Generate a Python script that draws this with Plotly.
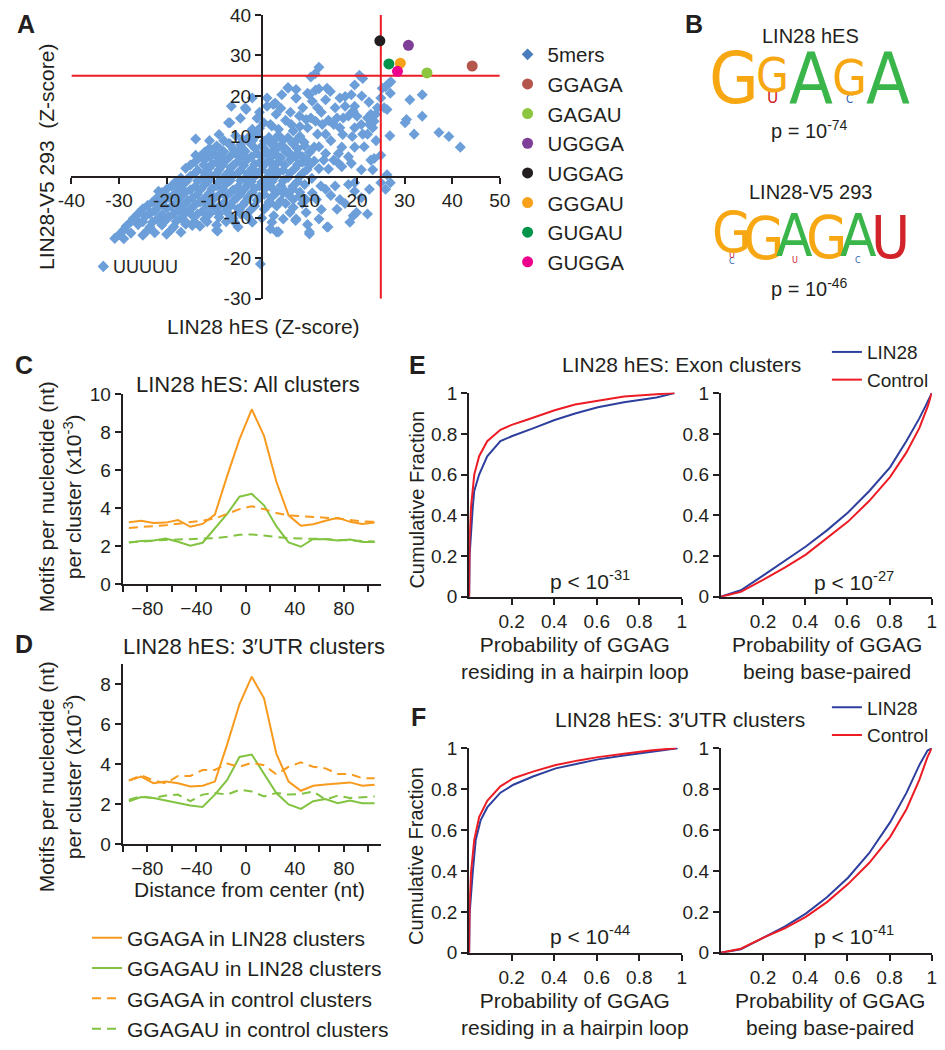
import plotly.graph_objects as go

W, H = 945, 1050
FONT = "Liberation Sans, Arial, Helvetica, sans-serif"
LOGO_FONT = "Liberation Sans Narrow, DejaVu Sans Condensed, Arial Narrow, Liberation Sans, sans-serif"
INK = "#231f20"

def px(x):
    return x / W

def py(y):
    return 1 - y / H

# ---------------- DATA ----------------
# Panel A: 5-mer enrichment Z-scores
fivemer_x = [
    12.0, 10.3, 11.2, 5.5, 7.2, 4.2, 2.8, 1.1, 7.2, 10.0, 11.3, 13.7, 14.4, 10.6, 11.7, 13.4, 8.6, 7.9, 9.3, 10.3,
    11.3, 6.2, 1.8, 3.5, 9.6, 12.7, 15.8, 17.1, 15.1, 13.4, 11.7, 7.2, 8.9, 6.6, 16.4, 17.5, 18.8, 19.5, 20.5, 21.2,
    19.5, 19.2, 18.2, 15.4, 16.4, 19.5, 20.9, 22.2, 22.9, 22.6, 23.6, 21.2, 22.2, 23.3, 23.9, 24.3, 25.7, 26.3, 25.0, 25.3,
    26.0, 26.7, 27.1, 27.0, 31.1, 30.4, 30.1, 33.7, 33.7, 32.0, 26.9, 37.2, 39.3, 41.7, 23.6, 25.0, 22.9, 23.3, 20.9, 18.8,
    18.2, 19.5, 16.8, 16.1, 15.1, 16.1, 16.8, 13.4, 13.0, 11.0, 9.6, 7.2, 5.9, 3.1, 1.8, 26.3, 27.0, 25.0, 19.5, 18.2,
    15.4, 13.4, 12.4, 10.6, 9.3, 7.9, 6.6, 4.5, 3.1, 1.8, 16.4, 15.8, 19.5, 20.9, 22.6, 19.2, 19.9, 22.2, 18.5, 13.7,
    10.0, 9.6, 7.2, 4.5, 3.1, 1.8, 9.3, 5.9,
    -6.4, -3.3, -6.7, -13.9, -13.9, -6.7, -2.0, -7.0, -1.6, 2.1, 2.4, 1.1, 5.5, 7.2, 9.6, 12.0, -3.5,
    -4.4, -2.6, -2.0, 0.4, -0.5, -1.0,
    -14.7, -9.3, -4.7, -0.3, 2.1, 3.5, 7.1, 10.0, 12.0, 13.9, 6.6,
    -14.6, -9.5, -5.7, -2.0, -21.7, -17.3, -25.8, -23.4, -20.7, -33.3, -30.9, -29.0,
    -5.5, -3.0, -1.0, 1.5, 3.5, 5.5, 8.0,
    -9.5, -7.0, -4.5, -2.5, 0.0, 2.0, 4.0, 6.5, 9.0,
    -12.0, -10.0, -8.0, -5.5, -3.5, -1.0, 1.0, 3.0, 5.0, 7.5, 10.0,
    -14.0, -12.0, -9.5, -7.5, -5.0, -3.0, -0.5, 1.5, 3.5, 6.0, 8.5, 11.0,
    -16.0, -13.5, -11.0, -9.0, -6.5, -4.5, -2.0, 0.0, 2.5, 4.5, 7.0, 9.5, 12.0,
    -17.0, -15.0, -12.5, -10.5, -8.0, -6.0, -3.5, -1.5, 1.0, 3.0, 5.5, 8.0, 10.5,
    -19.0, -16.5, -14.0, -12.0, -9.5, -7.5, -5.0, -3.0, -0.5, 1.5, 4.0, 6.5, 9.0,
    -21.0, -18.5, -16.0, -13.5, -11.0, -9.0, -6.5, -4.5, -2.0, 0.5, 3.0, 5.5, 8.0,
    -23.0, -20.5, -18.0, -15.5, -13.0, -10.5, -8.0, -6.0, -3.5, -1.0, 1.5, 4.0,
    -25.0, -22.5, -20.0, -17.5, -15.0, -12.5, -10.0, -7.5, -5.0, -2.5, 0.5,
    -27.0, -24.5, -22.0, -19.5, -17.0, -14.5, -12.0, -9.0, -6.0, -3.0, 0.0,
    -28.5, -26.0, -23.5, -21.0, -18.5, -16.0, -13.0, -9.5, -5.0,
    -30.0, -27.5, -25.0, -22.5, -20.0, -17.0,
    -8.0, -4.0, 0.5, 4.5,
    -11.0, -6.0, -1.5, 3.0, 7.5,
    -13.0, -9.0, -4.5, 0.0, 4.0, 8.5,
    -15.0, -10.5, -6.0, -1.5, 2.5, 7.5, 10.0,
    -14.0, -9.5, -5.0, -1.0, 3.5, 8.5,
    -18.0, -13.5, -9.0, -4.5, 0.0, 4.5, 7.5,
    -20.0, -15.0, -10.5, -6.0, -1.5, 2.5, 6.5,
    -22.0, -17.0, -12.0, -7.5, -3.0, 2.0,
    -24.0, -19.0, -14.0, -9.0, -4.0, 1.0,
    -26.0, -21.0, -16.0, -11.0, -7.0,
    -27.5, -23.0, -18.0, -14.0,
    -29.0, -24.0, -19.0,
    -10.8, -8.7, -6.6, -2.2, 2.1, 6.2,
    -12.2, -8.2, -3.8, 0.6, 4.8, -12.0, -7.2, -3.0, 1.5, 6.0,
    -15.8, -11.2, -6.7, -2.2, 2.2, -17.5, -12.8, -8.2, -3.8, 0.6, 4.5,
    -19.5, -14.5, -9.8, -5.2, -0.5, -21.5, -16.5, -11.5, -6.5, -1.5,
    -23.5, -18.5, -13.5, -9.0, -4.5, -25.0, -20.5, -16.0, -11.5, -7.5,
    -8.8, -4.0, 0.5, 5.0, -2.0, 2.5,
    3.0, 5.0, 4.0, 6.0, 8.0, 12.5, 14.0, 17.5, 21.0, 22.5, 20.0, 17.0, 14.5, 19.0, 12.0, 14.0,
    24.0, 21.5, -0.5, -4.5, -9.0, -11.0,
    2.5, 5.0, 8.5, 11.5, 12.5, 14.5, 17.5, 26.0,
]
fivemer_y = [
    27.1, 24.7, 25.5, 21.9, 21.6, 20.3, 18.3, 17.5, 19.5, 20.3, 21.5, 21.9, 21.1, 18.7, 17.1, 19.1, 17.1, 15.1, 14.2, 14.6,
    13.8, 13.0, 13.0, 11.8, 12.2, 13.0, 14.6, 14.6, 13.0, 10.6, 10.6, 9.0, 8.6, 11.4, 19.5, 19.9, 20.3, 22.7, 25.1, 24.3,
    17.5, 16.3, 15.1, 17.1, 12.2, 12.2, 13.0, 14.6, 15.5, 13.0, 13.8, 10.6, 10.6, 12.2, 15.5, 17.1, 17.1, 16.7, 19.5, 21.9,
    22.3, 23.1, 23.5, 20.7, 19.1, 14.2, 13.4, 20.3, 15.0, 10.6, 10.2, 11.0, 10.0, 7.4, 4.6, 5.4, 4.2, 1.8, 1.8, 3.4,
    5.0, 7.4, 7.4, 5.8, 4.2, 3.4, 2.6, 5.8, 4.2, 7.4, 4.2, 5.0, 5.8, 7.4, 5.8, 0.6, -1.4, -1.4, -1.4, -1.8,
    -2.2, -3.0, -2.2, -3.9, -5.5, -4.7, -5.5, -3.9, -7.1, -6.3, -5.5, -7.9, -3.5, -5.1, -3.0, -9.5, -8.7, -9.1, -11.1, -12.3,
    -13.5, -11.7, -10.3, -10.3, -13.5, -12.7, -8.7, -8.7,
    17.5, 16.7, 13.4, 9.4, 5.4, 8.2, 19.5, 13.4, 10.6, 12.6, 17.9, 19.5, 22.1, 19.5, 20.7, 21.8, 17.1,
    7.0, 9.4, 11.8, 13.4, 12.0, 14.5,
    -11.7, -13.3, -7.9, -21.4, -11.1, -13.5, -10.7, -14.0, -10.3, -12.3, -7.5,
    -11.9, -13.1, -11.1, -11.1, -3.5, -2.6, -11.1, -8.7, -5.9, -22.0, -15.1, -15.2,
    10.2, 9.6, 10.4, 9.8, 10.3, 9.7, 10.1,
    7.7, 8.3, 7.9, 8.4, 7.6, 8.2, 7.8, 8.3, 7.7,
    6.2, 5.7, 6.3, 5.8, 6.4, 5.9, 6.2, 5.6, 6.3, 5.8, 6.1,
    3.8, 4.3, 3.7, 4.2, 3.9, 4.4, 3.6, 4.1, 3.8, 4.3, 3.7, 4.0,
    2.2, 1.7, 2.3, 1.8, 2.4, 1.6, 2.1, 1.8, 2.3, 1.7, 2.2, 1.9, 2.1,
    -0.2, 0.3, -0.3, 0.2, -0.1, 0.4, -0.3, 0.2, -0.2, 0.3, -0.1, 0.2, -0.3,
    -2.2, -1.7, -2.3, -1.8, -2.1, -1.6, -2.4, -1.9, -2.2, -1.7, -2.1, -2.3, -1.8,
    -3.8, -4.3, -3.7, -4.2, -3.9, -4.4, -3.7, -4.1, -3.8, -4.3, -3.9, -4.2, -3.7,
    -6.2, -5.7, -6.3, -5.8, -6.1, -5.6, -6.4, -5.9, -6.2, -5.7, -6.1, -5.8,
    -7.8, -8.3, -7.7, -8.2, -7.9, -8.4, -7.6, -8.1, -7.8, -8.3, -7.9,
    -10.2, -9.7, -10.3, -9.8, -10.1, -9.6, -10.4, -9.9, -10.2, -9.7, -10.1,
    -12.1, -11.7, -12.3, -11.8, -12.2, -11.6, -12.1, -11.8, -12.3,
    -14.2, -13.8, -14.3, -13.7, -14.1, -13.6,
    9.0, 9.2, 8.9, 9.1,
    7.1, 6.9, 7.2, 6.8, 7.0,
    5.0, 5.2, 4.9, 5.1, 4.8, 5.1,
    3.0, 3.1, 2.9, 3.2, 2.8, 3.1, 2.9,
    1.0, 0.9, 1.1, 0.8, 1.2, 0.9,
    -1.0, -0.9, -1.1, -0.8, -1.2, -0.9, -1.1,
    -3.0, -3.1, -2.9, -3.2, -2.8, -3.1, -2.9,
    -5.1, -4.9, -5.2, -4.8, -5.1, -5.0,
    -7.0, -7.2, -6.8, -7.1, -6.9, -7.2,
    -9.0, -9.2, -8.8, -9.1, -9.0,
    -11.0, -11.1, -10.9, -11.2,
    -13.0, -13.1, -12.9,
    5.0, 4.8, 5.2, 5.0, 5.1, 5.0,
    3.0, 3.0, 2.9, 3.1, 3.0, 1.0, 1.0, 0.9, 1.0, 1.1,
    -1.0, -1.0, -0.9, -1.1, -1.0, -3.0, -3.0, -3.0, -3.1, -2.9, -3.0,
    -5.0, -5.0, -5.1, -5.0, -4.9, -7.0, -7.0, -7.0, -7.0, -7.1,
    -9.0, -9.0, -9.1, -9.0, -9.0, -11.0, -11.0, -11.0, -11.0, -11.0,
    7.0, 7.0, 7.0, 7.0, 9.0, 9.0,
    15.5, 14.0, 17.0, 16.0, 12.5, 16.0, 14.0, 17.5, 20.0, 18.5, 15.0, 10.5, 9.0, 10.0, 7.5, 2.0,
    9.0, 7.5, 16.0, 14.5, 10.5, 9.0,
    -9.5, -6.5, -6.5, -5.5, -8.0, -4.5, -6.5, -3.0,
]
uuuuu_x, uuuuu_y = -33.3, -22.0
top_kmers = ["GGAGA", "GAGAU", "UGGGA", "UGGAG", "GGGAU", "GUGAU", "GUGGA"]
top_x = [44.2, 34.7, 30.8, 24.8, 29.1, 26.7, 28.5]
top_y = [27.4, 25.7, 32.5, 33.6, 28.1, 27.9, 26.1]
z_cutoff = 25
a_xticks = [-40, -30, -20, -10, 0, 10, 20, 30, 40, 50]
a_yticks = [-30, -20, -10, 10, 20, 30, 40]

# Panel B: sequence logos (letter, relative height), stacked bottom -> top
logo_hes = [[("G", 1.0)], [("U", 0.24), ("G", 0.66)], [("A", 1.0)], [("C", 0.16), ("G", 0.70)], [("A", 1.0)]]
logo_293 = [[("C", 0.08), ("U", 0.12), ("G", 0.76)], [("G", 0.96)], [("U", 0.10), ("A", 0.88)],
            [("G", 0.97)], [("C", 0.10), ("A", 0.88)], [("U", 1.0)]]
p_hes, p_293 = "-74", "-46"

# Panels C/D: motif density vs distance from cluster center
dist_nt = [-95, -85, -75, -65, -55, -45, -35, -25, -15, -5, 5, 15, 25, 35, 45, 55, 65, 75, 85, 95, 105]
c_ggaga_lin28 = [3.26, 3.34, 3.22, 3.24, 3.38, 3.02, 3.17, 3.66, 5.70, 7.62, 9.20, 7.80, 5.40, 3.62, 3.08, 3.15, 3.34, 3.50, 3.28, 3.17, 3.24]
c_ggagau_lin28 = [2.20, 2.27, 2.30, 2.40, 2.23, 2.03, 2.18, 2.95, 3.70, 4.60, 4.75, 4.15, 3.05, 2.20, 1.97, 2.38, 2.36, 2.30, 2.35, 2.22, 2.22]
c_ggaga_ctrl = [2.96, 3.00, 3.05, 3.10, 3.18, 3.25, 3.35, 3.45, 3.70, 3.95, 4.10, 3.95, 3.75, 3.62, 3.58, 3.55, 3.50, 3.45, 3.38, 3.30, 3.28]
c_ggagau_ctrl = [2.20, 2.25, 2.30, 2.33, 2.35, 2.38, 2.40, 2.42, 2.50, 2.60, 2.62, 2.55, 2.48, 2.42, 2.40, 2.40, 2.38, 2.33, 2.30, 2.27, 2.25]
d_ggaga_lin28 = [3.19, 3.39, 3.06, 3.14, 3.06, 2.90, 2.93, 3.14, 5.00, 7.00, 8.38, 7.30, 4.54, 3.14, 2.68, 2.93, 3.00, 3.06, 3.10, 2.93, 2.98]
d_ggagau_lin28 = [2.16, 2.37, 2.32, 2.20, 2.10, 1.95, 1.87, 2.49, 3.22, 4.37, 4.49, 3.55, 2.57, 2.00, 1.78, 2.16, 2.27, 2.06, 2.20, 2.06, 2.06]
d_ggaga_ctrl = [3.20, 3.45, 3.20, 3.05, 3.42, 3.42, 3.72, 3.72, 4.04, 3.88, 4.08, 3.96, 3.50, 3.88, 4.10, 3.88, 3.80, 3.52, 3.52, 3.31, 3.31]
d_ggagau_ctrl = [2.24, 2.40, 2.32, 2.44, 2.49, 2.16, 2.49, 2.57, 2.49, 2.73, 2.65, 2.40, 2.57, 2.49, 2.52, 2.65, 2.24, 2.44, 2.32, 2.36, 2.40]
series_names = ["GGAGA in LIN28 clusters", "GGAGAU in LIN28 clusters", "GGAGA in control clusters", "GGAGAU in control clusters"]

# Panels E/F: cumulative distributions
e_loop_lin28_x = [0, 0.002, 0.017, 0.024, 0.047, 0.085, 0.147, 0.2, 0.3, 0.402, 0.498, 0.605, 0.728, 0.881, 0.965]
e_loop_lin28_y = [0, 0.20, 0.44, 0.52, 0.60, 0.69, 0.764, 0.788, 0.827, 0.868, 0.90, 0.931, 0.955, 0.979, 1.0]
e_loop_ctrl_x = [0, 0.002, 0.009, 0.024, 0.047, 0.085, 0.147, 0.2, 0.269, 0.402, 0.498, 0.605, 0.728, 0.881, 0.965]
e_loop_ctrl_y = [0, 0.28, 0.44, 0.60, 0.69, 0.764, 0.82, 0.844, 0.868, 0.916, 0.944, 0.963, 0.983, 0.995, 1.0]
e_pair_lin28_x = [0, 0.095, 0.2, 0.303, 0.403, 0.503, 0.603, 0.703, 0.803, 0.88, 0.941, 0.972, 1.0]
e_pair_lin28_y = [0, 0.032, 0.104, 0.178, 0.247, 0.326, 0.414, 0.518, 0.637, 0.765, 0.876, 0.94, 1.0]
e_pair_ctrl_x = [0, 0.095, 0.2, 0.303, 0.403, 0.503, 0.603, 0.703, 0.803, 0.88, 0.941, 0.98, 1.0]
e_pair_ctrl_y = [0, 0.024, 0.083, 0.143, 0.207, 0.287, 0.369, 0.47, 0.589, 0.709, 0.828, 0.932, 1.0]
f_loop_lin28_x = [0, 0.002, 0.017, 0.031, 0.054, 0.085, 0.147, 0.208, 0.3, 0.407, 0.514, 0.606, 0.728, 0.85, 0.98]
f_loop_lin28_y = [0, 0.19, 0.394, 0.552, 0.648, 0.711, 0.783, 0.822, 0.862, 0.902, 0.926, 0.946, 0.965, 0.981, 1.0]
f_loop_ctrl_x = [0, 0.002, 0.009, 0.024, 0.047, 0.085, 0.147, 0.208, 0.3, 0.407, 0.514, 0.606, 0.728, 0.85, 0.972]
f_loop_ctrl_y = [0, 0.235, 0.394, 0.552, 0.664, 0.743, 0.814, 0.854, 0.886, 0.918, 0.941, 0.957, 0.973, 0.989, 1.0]
f_pair_lin28_x = [0, 0.095, 0.2, 0.303, 0.403, 0.503, 0.603, 0.703, 0.803, 0.88, 0.941, 0.98, 1.0]
f_pair_lin28_y = [0, 0.017, 0.073, 0.128, 0.192, 0.272, 0.367, 0.487, 0.639, 0.782, 0.918, 0.989, 1.0]
f_pair_ctrl_x = [0, 0.095, 0.2, 0.303, 0.403, 0.503, 0.603, 0.703, 0.803, 0.88, 0.941, 0.98, 1.0]
f_pair_ctrl_y = [0, 0.02, 0.073, 0.12, 0.176, 0.248, 0.336, 0.439, 0.567, 0.702, 0.846, 0.958, 1.0]
p_values = {"e_loop": "-31", "e_pair": "-27", "f_loop": "-44", "f_pair": "-41"}

# ---------------- STYLES ----------------
POINT_BLUE = "#6c9fd9"
LEGEND_BLUE = "#4a7dbd"
top_colors = ["#b5564d", "#8cc63f", "#7f3f98", "#231f20", "#f7a11a", "#00954a", "#ec008c"]
ORANGE = "#f79a1e"
GREEN = "#82c341"
LBLUE = "#2e3f9e"
LRED = "#ed1c24"
LOGO_COLORS = {"G": "#f7a712", "A": "#3ab54a", "U": "#d2232a", "C": "#2e5fb0"}

fig = go.Figure()

# ---------------- PANEL A ----------------
fig.add_trace(go.Scatter(x=fivemer_x + [uuuuu_x], y=fivemer_y + [uuuuu_y], mode="markers",
                         marker=dict(symbol="diamond", size=8.5, color=POINT_BLUE, line=dict(width=0)),
                         showlegend=False, xaxis="x", yaxis="y", hoverinfo="skip"))
fig.add_trace(go.Scatter(x=[z_cutoff, z_cutoff], y=[-30, 40], mode="lines", line=dict(color=LRED, width=2),
                         showlegend=False, xaxis="x", yaxis="y"))
fig.add_trace(go.Scatter(x=[-40, 50], y=[z_cutoff, z_cutoff], mode="lines", line=dict(color=LRED, width=2),
                         showlegend=False, xaxis="x", yaxis="y"))
fig.add_trace(go.Scatter(x=[None], y=[None], mode="markers", name="5mers",
                         marker=dict(symbol="diamond", size=9, color=LEGEND_BLUE),
                         legend="legend", xaxis="x", yaxis="y"))
for k, xv, yv, col in zip(top_kmers, top_x, top_y, top_colors):
    fig.add_trace(go.Scatter(x=[xv], y=[yv], mode="markers", name=k,
                             marker=dict(symbol="circle", size=11, color=col),
                             legend="legend", xaxis="x", yaxis="y", cliponaxis=False))

# ---------------- PANELS C / D ----------------
DASH = "9px,6px"

def add_profile(ax, ay, vals, color, dash, name, show):
    fig.add_trace(go.Scatter(x=dist_nt, y=vals, mode="lines", name=name,
                             line=dict(color=color, width=2, dash=dash),
                             showlegend=show, legend="legend2", xaxis=ax, yaxis=ay))

for vals, col, dsh, nm in [(c_ggaga_lin28, ORANGE, "solid", series_names[0]),
                           (c_ggagau_lin28, GREEN, "solid", series_names[1]),
                           (c_ggaga_ctrl, ORANGE, DASH, series_names[2]),
                           (c_ggagau_ctrl, GREEN, DASH, series_names[3])]:
    add_profile("x2", "y2", vals, col, dsh, nm, True)
for vals, col, dsh, nm in [(d_ggaga_lin28, ORANGE, "solid", series_names[0]),
                           (d_ggagau_lin28, GREEN, "solid", series_names[1]),
                           (d_ggaga_ctrl, ORANGE, DASH, series_names[2]),
                           (d_ggagau_ctrl, GREEN, DASH, series_names[3])]:
    add_profile("x3", "y3", vals, col, dsh, nm, False)

# ---------------- PANELS E / F ----------------
cdf_sets = [
    ("x4", "y4", e_loop_lin28_x, e_loop_lin28_y, e_loop_ctrl_x, e_loop_ctrl_y, "legend3", True),
    ("x5", "y5", e_pair_lin28_x, e_pair_lin28_y, e_pair_ctrl_x, e_pair_ctrl_y, "legend3", False),
    ("x6", "y6", f_loop_lin28_x, f_loop_lin28_y, f_loop_ctrl_x, f_loop_ctrl_y, "legend4", True),
    ("x7", "y7", f_pair_lin28_x, f_pair_lin28_y, f_pair_ctrl_x, f_pair_ctrl_y, "legend4", False),
]
for ax, ay, lx, ly, cx, cy, lg, show in cdf_sets:
    fig.add_trace(go.Scatter(x=lx, y=ly, mode="lines", name="LIN28", line=dict(color=LBLUE, width=2),
                             legend=lg, showlegend=show, xaxis=ax, yaxis=ay))
    fig.add_trace(go.Scatter(x=cx, y=cy, mode="lines", name="Control", line=dict(color=LRED, width=2),
                             legend=lg, showlegend=show, xaxis=ax, yaxis=ay))

# ---------------- AXES ----------------
TICKFONT = dict(family=FONT, size=19, color=INK)

def base_axis(**kw):
    d = dict(showline=True, linecolor=INK, linewidth=2, ticks="outside", ticklen=6, tickwidth=1.5,
             tickcolor=INK, showgrid=False, zeroline=False, tickfont=TICKFONT, fixedrange=True)
    d.update(kw)
    return d

layout_axes = {}
layout_axes["xaxis"] = base_axis(domain=[px(59), px(499)], range=[-40, 50], anchor="free", position=py(170.7),
                                 tickvals=a_xticks,
                                 ticktext=[("0\u00a0\u00a0\u00a0" if v == 0 else str(v)) for v in a_xticks])
layout_axes["yaxis"] = base_axis(domain=[py(295), py(5)], range=[-30, 40], anchor="free", position=px(254.6),
                                 tickvals=a_yticks, ticktext=[str(v) for v in a_yticks])

cd_major = [-80, -40, 0, 40, 80]
cd_minor = [-100, -60, -20, 20, 60, 100]
MINOR = dict(tickvals=cd_minor, ticks="outside", ticklen=6, tickwidth=1.5, tickcolor=INK, showgrid=False)
layout_axes["xaxis2"] = base_axis(domain=[px(111.7), px(376.7)], range=[-100, 110], anchor="y2",
                                  tickvals=cd_major, minor=MINOR)
layout_axes["yaxis2"] = base_axis(domain=[py(586.5), py(392.3)], range=[0, 10], anchor="x2",
                                  tickvals=[0, 2, 4, 6, 8, 10])
layout_axes["xaxis3"] = base_axis(domain=[px(111.7), px(376.7)], range=[-100, 110], anchor="y3",
                                  tickvals=cd_major, minor=MINOR)
layout_axes["yaxis3"] = base_axis(domain=[py(852.3), py(668.3)], range=[0, 9], anchor="x3",
                                  tickvals=[0, 2, 4, 6, 8])

cdf_xt = [0.2, 0.4, 0.6, 0.8, 1.0]
cdf_yt = [0, 0.2, 0.4, 0.6, 0.8, 1.0]
def cdf_x(dom, anchor):
    return base_axis(domain=dom, range=[0, 1], anchor=anchor, tickvals=cdf_xt,
                     ticktext=["0.2", "0.4", "0.6", "0.8", "1"])
def cdf_y(dom, anchor):
    return base_axis(domain=dom, range=[0, 1.003], anchor=anchor, tickvals=cdf_yt,
                     ticktext=["0", "0.2", "0.4", "0.6", "0.8", "1"])

layout_axes["xaxis4"] = cdf_x([px(467.5), px(686)], "y4")
layout_axes["yaxis4"] = cdf_y([py(599.3), py(390.7)], "x4")
layout_axes["xaxis5"] = cdf_x([px(726), px(942.7)], "y5")
layout_axes["yaxis5"] = cdf_y([py(599.3), py(390.7)], "x5")
layout_axes["xaxis6"] = cdf_x([px(467.5), px(686)], "y6")
layout_axes["yaxis6"] = cdf_y([py(963), py(753.5)], "x6")
layout_axes["xaxis7"] = cdf_x([px(726), px(942.7)], "y7")
layout_axes["yaxis7"] = cdf_y([py(963), py(753.5)], "x7")

# ---------------- ANNOTATIONS ----------------
anns = []
def ann(text, x, y, size, angle=0, bold=False, color=INK, family=FONT, xanchor="center"):
    anns.append(dict(text=("<b>%s</b>" % text) if bold else text, x=px(x), y=py(y), xref="paper", yref="paper",
                     showarrow=False, textangle=angle, xanchor=xanchor, yanchor="middle",
                     font=dict(family=family, size=size, color=color)))

for lab, x, y in [("A", 12, 14), ("B", 698, 14), ("C", 10, 363), ("D", 10, 648), ("E", 414, 363), ("F", 416, 722)]:
    ann(lab, x, y, 25, bold=True)

ann("LIN28 hES (Z-score)", 256, 323, 21)
ann("LIN28-V5 293\u00a0\u00a0(Z-score)", 34, 150, 21, angle=-90)
ann("UUUUU", 100, 263, 18, xanchor="left")

# Panel B
ann("LIN28 hES", 818, 27, 20)
ann("p = 10<sup>%s</sup>" % p_hes, 817, 122, 20)
ann("LIN28-V5 293", 818, 186, 20)
ann("p = 10<sup>%s</sup>" % p_293, 817, 283, 20)

def draw_logo(logo, x0, step, base, full_h):
    for i, col in enumerate(logo):
        cx = x0 + i * step
        y_cur = base
        for letter, frac in col:
            h = frac * full_h
            size = max(h / 0.70, 9)
            size = min(size, step / 0.56 * 1.02)
            ann(letter, cx, y_cur - h / 2, size, color=LOGO_COLORS[letter], family=LOGO_FONT)
            y_cur -= h

draw_logo(logo_hes, 740, 39.5, 95, 50)
draw_logo(logo_293, 737, 32.6, 258, 52)

# Panels C/D titles
ann("LIN28 hES: All clusters", 240, 383, 22)
ann("LIN28 hES: 3\u2032UTR clusters", 247, 650, 22)
ann("Motifs per nucleotide (nt)<br>per cluster (x10<sup>-3</sup>)", 47, 497, 21, angle=-90)
ann("Motifs per nucleotide (nt)<br>per cluster (x10<sup>-3</sup>)", 47, 783, 21, angle=-90)
ann("Distance from center (nt)", 242, 898, 21)

# Panels E/F
ann("LIN28 hES: Exon clusters", 686, 362, 21)
ann("LIN28 hES: 3\u2032UTR clusters", 684, 725, 21)
ann("Cumulative Fraction", 413, 500, 20, angle=-90)
ann("Cumulative Fraction", 413, 864, 20, angle=-90)
ann("p < 10<sup>%s</sup>" % p_values["e_loop"], 592, 582, 21)
ann("p < 10<sup>%s</sup>" % p_values["e_pair"], 863, 583, 21)
ann("p < 10<sup>%s</sup>" % p_values["f_loop"], 592, 945, 21)
ann("p < 10<sup>%s</sup>" % p_values["f_pair"], 863, 945, 21)
ann("Probability of GGAG<br>residing in a hairpin loop", 576, 662, 21)
ann("Probability of GGAG<br>being base-paired", 835, 662, 21)
ann("Probability of GGAG<br>residing in a hairpin loop", 576, 1025, 21)
ann("Probability of GGAG<br>being base-paired", 838, 1025, 21)

def legend_cfg(x, y, size):
    return dict(x=px(x), y=py(y), xanchor="left", yanchor="top", bgcolor="rgba(0,0,0,0)", borderwidth=0,
                font=dict(family=FONT, size=size, color=INK), tracegroupgap=0, itemwidth=30)

fig.update_layout(
    width=W, height=H, margin=dict(l=0, r=0, t=0, b=0), autosize=False,
    paper_bgcolor="white", plot_bgcolor="white",
    font=dict(family=FONT, color=INK),
    legend=legend_cfg(507, 25, 20.5),
    legend2=legend_cfg(75, 927, 21),
    legend3=legend_cfg(835, 330, 19),
    legend4=legend_cfg(835, 693, 19),
    annotations=anns,
    **layout_axes,
)

FIT_PAGE = (
    "var de=document.documentElement, b=document.body;"
    "de.style.margin='0'; de.style.padding='0'; de.style.overflow='hidden';"
    "b.style.margin='0'; b.style.padding='0'; b.style.overflow='hidden';"
    "var g=document.getElementById('{plot_id}');"
    "if(g){g.style.position='absolute'; g.style.left='0px'; g.style.top='0px';}"
)

fig.write_html("out.html", config={"displayModeBar": False}, post_script=FIT_PAGE)
